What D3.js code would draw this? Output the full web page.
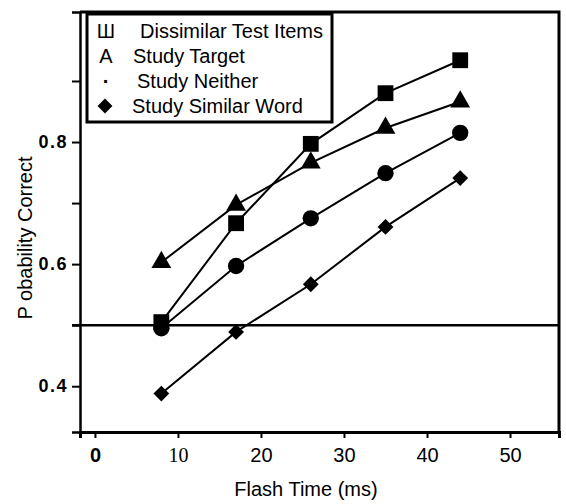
<!DOCTYPE html>
<html>
<head>
<meta charset="utf-8">
<script src="https://cdn.jsdelivr.net/npm/d3@7"></script>
<style>
  body { margin: 0; background: #fff; }
  svg { display: block; font-family: "Liberation Sans", Arial, sans-serif; }
</style>
</head>
<body>
<svg id="chart" width="566" height="504"></svg>
<script>
// flash times (ms) shared by all series
const flashTimes = [8, 17, 26, 35, 44];

// probability correct per condition
const dissimilarItems = [0.505, 0.667, 0.797, 0.880, 0.934];
const studyTarget     = [0.603, 0.697, 0.766, 0.823, 0.866];
const studyNeither    = [0.495, 0.597, 0.675, 0.749, 0.815];
const studySimilar    = [0.388, 0.489, 0.567, 0.661, 0.741];

const xTicks = [0, 10, 20, 30, 40, 50];
const yTicks = [0.4, 0.5, 0.6, 0.7, 0.8, 0.9];
const yTickLabels = ["0.4", "", "0.6", "", "0.8", ""];
const chanceLevel = 0.5;

const legendSymbols = ["Ш", "A", "·", "◆"];
const legendLabels = ["Dissimilar Test Items", "Study Target", "Study Neither", "Study Similar Word"];

// diamond = square turned 45 degrees
const series = [
  { values: dissimilarItems, symbol: d3.symbolSquare, size: 250, rot: 0 },
  { values: studyTarget, symbol: d3.symbolTriangle, size: 170, rot: 0 },
  { values: studyNeither, symbol: d3.symbolCircle, size: 210, rot: 0 },
  { values: studySimilar, symbol: d3.symbolSquare, size: 125, rot: 45 }
];

const svg = d3.select("#chart");
const plot = { left: 80, right: 559, top: 12, bottom: 432 };

// scales
const x = d3.scaleLinear().domain([-1.8, 55.9]).range([plot.left, plot.right]);
const y = d3.scaleLinear().domain([0.325, 1.013]).range([plot.bottom, plot.top]);

// frame (top and right)
svg.append("path")
  .attr("d", `M${plot.left},${plot.top}H${plot.right}V${plot.bottom}`)
  .attr("fill", "none").attr("stroke", "#000").attr("stroke-width", 3);

// left axis
const yAxis = svg.append("g")
  .attr("transform", `translate(${plot.left},0)`)
  .call(d3.axisLeft(y).tickValues(yTicks).tickSize(8).tickFormat((d, i) => yTickLabels[i]));
yAxis.select(".domain").attr("stroke-width", 2.5);
yAxis.selectAll(".tick line").attr("stroke-width", 2);
yAxis.selectAll(".tick text")
  .attr("x", -12)
  .attr("font-family", "'Liberation Sans', Arial, sans-serif")
  .attr("font-size", 18).attr("font-weight", "bold").attr("letter-spacing", 1.5);

// bottom axis
const xAxis = svg.append("g")
  .attr("transform", `translate(0,${plot.bottom})`)
  .call(d3.axisBottom(x).tickValues(xTicks).tickSize(6));
xAxis.select(".domain").attr("stroke-width", 3);
xAxis.selectAll(".tick line").attr("stroke-width", 2);
xAxis.selectAll(".tick text")
  .attr("y", 16)
  .attr("font-size", 20)
  .attr("font-family", d => d === 10 ? "'Liberation Serif', 'Times New Roman', serif" : "'Liberation Sans', Arial, sans-serif")
  .attr("font-weight", d => d === 0 ? "bold" : "normal");

// chance line
svg.append("line")
  .attr("x1", plot.left - 8).attr("x2", plot.right)
  .attr("y1", y(chanceLevel)).attr("y2", y(chanceLevel))
  .attr("stroke", "#000").attr("stroke-width", 2.5);

// series lines and markers
const line = d3.line().x((d, i) => x(flashTimes[i])).y(d => y(d));

series.forEach(s => {
  svg.append("path")
    .attr("d", line(s.values))
    .attr("fill", "none").attr("stroke", "#000").attr("stroke-width", 2);

  svg.selectAll(null)
    .data(s.values)
    .join("path")
    .attr("transform", (d, i) => `translate(${x(flashTimes[i])},${y(d)}) rotate(${s.rot})`)
    .attr("d", d3.symbol().type(s.symbol).size(s.size))
    .attr("fill", "#000");
});

// legend
const legend = svg.append("g");
legend.append("rect")
  .attr("x", 87).attr("y", 14).attr("width", 245).attr("height", 108)
  .attr("fill", "#fff").attr("stroke", "#000").attr("stroke-width", 3);

const rowY = [31, 56, 81, 106];
const labelX = [140, 133, 137, 132];
legendLabels.forEach((lab, i) => {
  if (i === 3) {
    legend.append("path")
      .attr("transform", `translate(105,${rowY[i]}) rotate(45)`)
      .attr("d", d3.symbol().type(d3.symbolSquare).size(110))
      .attr("fill", "#000");
  } else {
    legend.append("text")
      .attr("x", 106).attr("y", rowY[i]).attr("dy", "0.35em")
      .attr("text-anchor", "middle")
      .attr("font-size", 20)
      .attr("font-weight", i === 2 ? "bold" : "normal")
      .text(legendSymbols[i]);
  }
  legend.append("text")
    .attr("x", labelX[i]).attr("y", rowY[i]).attr("dy", "0.35em")
    .attr("font-size", 20)
    .text(lab);
});

// axis titles
svg.append("text")
  .attr("x", 306).attr("y", 489).attr("dy", "0.35em")
  .attr("text-anchor", "middle")
  .attr("font-size", 20)
  .text("Flash Time (ms)");

svg.append("text")
  .attr("transform", "translate(25,238) rotate(-90)")
  .attr("dy", "0.35em")
  .attr("text-anchor", "middle")
  .attr("font-size", 20)
  .text("P obability Correct");
</script>
</body>
</html>
